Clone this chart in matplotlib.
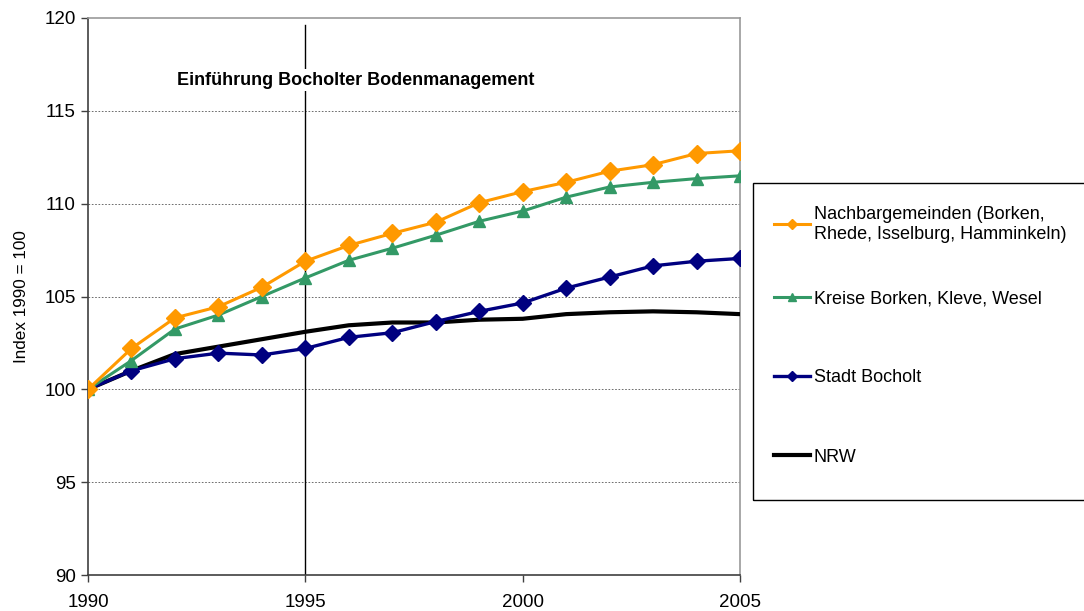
import matplotlib
matplotlib.use("Agg")
import matplotlib.pyplot as plt
from matplotlib.patches import Rectangle

plt.rcParams["font.family"] = ["Liberation Sans", "DejaVu Sans"]

years = list(range(1990, 2006))
nachbar = [100, 102.2, 103.85, 104.45, 105.5, 106.9, 107.75, 108.4, 109.0,
           110.05, 110.65, 111.15, 111.75, 112.1, 112.7, 112.85]
kreise = [100, 101.55, 103.25, 104.0, 105.0, 106.0, 106.95, 107.6, 108.3,
          109.05, 109.6, 110.35, 110.9, 111.15, 111.35, 111.5]
bocholt = [100, 101.0, 101.65, 101.95, 101.85, 102.2, 102.8, 103.05, 103.65,
           104.2, 104.65, 105.45, 106.05, 106.65, 106.9, 107.05]
nrw = [100, 101.0, 101.9, 102.3, 102.7, 103.1, 103.45, 103.6, 103.6,
       103.75, 103.8, 104.05, 104.15, 104.2, 104.15, 104.05]

labels = ["Nachbargemeinden (Borken,\nRhede, Isselburg, Hamminkeln)",
          "Kreise Borken, Kleve, Wesel", "Stadt Bocholt", "NRW"]
yticks = [90, 95, 100, 105, 110, 115, 120]
gridlines = [95, 100, 105, 110, 115]
xticks = [1990, 1995, 2000, 2005]
event_year = 1995
event_text = "Einführung Bocholter Bodenmanagement"

fig = plt.figure(figsize=(10.84, 6.11), dpi=100)
ax = fig.add_axes([88 / 1084, 1 - 575 / 611, 652 / 1084, 557 / 611])

ax.plot(years, nrw, color="black", lw=3.0, label=labels[3], zorder=3)
ax.plot(years, bocholt, color="#000080", lw=2.4, marker="D", ms=8, label=labels[2], zorder=4)
ax.plot(years, kreise, color="#339966", lw=2.2, marker="^", ms=9, label=labels[1], zorder=4)
ax.plot(years, nachbar, color="#FF9900", lw=2.2, marker="D", ms=9, label=labels[0], zorder=4)

ax.set_xlim(1990, 2005)
ax.set_ylim(90, 120)
ax.set_xticks(xticks)
ax.set_yticks(yticks)
ax.tick_params(labelsize=13.5, length=5, color="#404040", width=1)
ax.tick_params(axis="x", pad=9)
ax.tick_params(axis="y", pad=4)
for g in gridlines:
    ax.axhline(g, color="#555555", ls=(0, (2, 2)), lw=0.6, zorder=1)
ax.set_ylabel("Index 1990 = 100", fontsize=12.3, labelpad=11)

for s in ["left", "bottom"]:
    ax.spines[s].set_color("#404040")
    ax.spines[s].set_linewidth(1.2)
for s in ["right", "top"]:
    ax.spines[s].set_color("#999999")
    ax.spines[s].set_linewidth(1.2)

ax.axvline(event_year, ymin=0, ymax=(119.6 - 90) / 30, color="black", lw=1.0, zorder=2)
ax.text(1992.05, 116.65, event_text, fontsize=13, fontweight="bold", va="center", ha="left",
        bbox=dict(facecolor="white", edgecolor="none", pad=2), zorder=5)

handles, labs = ax.get_legend_handles_labels()
order = [3, 2, 1, 0]
h = [handles[i] for i in order]
l = [labs[i] for i in order]
leg_kw = dict(loc="upper left", frameon=False, fontsize=13, handlelength=2.0,
              handletextpad=0.2, markerscale=0.6, borderaxespad=0, borderpad=0)
leg1 = fig.legend(h[:1], l[:1], bbox_to_anchor=(774 / 1084, 1 - 206 / 611), **leg_kw)
leg2 = fig.legend(h[1:], l[1:], bbox_to_anchor=(774 / 1084, 1 - 290 / 611),
                  labelspacing=3.45, **leg_kw)
fig.patches.append(Rectangle((753 / 1084, 1 - 500 / 611), 0.4, 317 / 611,
                             transform=fig.transFigure, fill=False, edgecolor="black", lw=1))

fig.savefig("out.png", dpi=100)
